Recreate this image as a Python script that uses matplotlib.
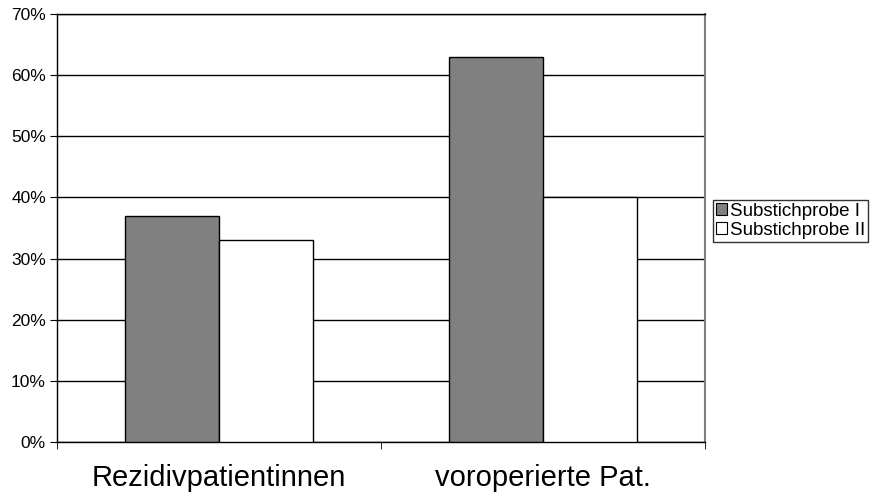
import matplotlib
matplotlib.use("Agg")
import matplotlib.pyplot as plt
from matplotlib.patches import Patch
import numpy as np

categories = ["Rezidivpatientinnen", "voroperierte Pat."]
series_names = ["Substichprobe I", "Substichprobe II"]
values_I = [37, 63]
values_II = [33, 40]
yticks = [0, 10, 20, 30, 40, 50, 60, 70]
ytick_labels = ["0%", "10%", "20%", "30%", "40%", "50%", "60%", "70%"]

plt.rcParams['font.family'] = ['Liberation Sans', 'DejaVu Sans']

fig = plt.figure(figsize=(8.9, 4.97), dpi=100)
ax = fig.add_axes([57/890, 55/497, (705-57)/890, (442-14)/497])

x = np.arange(len(categories))
w = 0.29
ax.bar(x - w/2, values_I, width=w, color="#808080", edgecolor="black", linewidth=1, zorder=3)
ax.bar(x + w/2, values_II, width=w, color="white", edgecolor="black", linewidth=1, zorder=3)

ax.set_xlim(-0.5, len(categories) - 0.5)
ax.set_ylim(0, 70)
ax.set_yticks(yticks)
ax.set_yticklabels(ytick_labels, fontsize=12.5)
ax.yaxis.grid(True, color="black", linewidth=1, zorder=0)
ax.set_axisbelow(True)

ax.set_xticks(x)
ax.set_xticklabels(categories, fontsize=21)
ax.tick_params(axis='x', which='major', length=0, pad=16)
ax.set_xticks(np.arange(-0.5, len(categories), 1.0), minor=True)
ax.tick_params(axis='x', which='minor', length=5, direction='out', color='black')
ax.tick_params(axis='y', length=5, direction='out', pad=3, color='black')

for s in ['left', 'bottom', 'top']:
    ax.spines[s].set_color('black')
    ax.spines[s].set_linewidth(1)
ax.spines['right'].set_color('#808080')
ax.spines['right'].set_linewidth(1.5)

handles = [Patch(facecolor="#808080", edgecolor="black", linewidth=0.8),
           Patch(facecolor="white", edgecolor="black", linewidth=0.8)]
leg = fig.legend(handles, series_names, loc='upper left',
                 bbox_to_anchor=(713/890, 1 - 200/497), fontsize=13.5,
                 frameon=True, fancybox=False, shadow=False,
                 handlelength=0.6, handleheight=0.6, handletextpad=0.15,
                 borderpad=0.15, labelspacing=0.1, borderaxespad=0)
leg.get_frame().set_edgecolor('black')
leg.get_frame().set_linewidth(1)

fig.savefig("out.png", dpi=100)
